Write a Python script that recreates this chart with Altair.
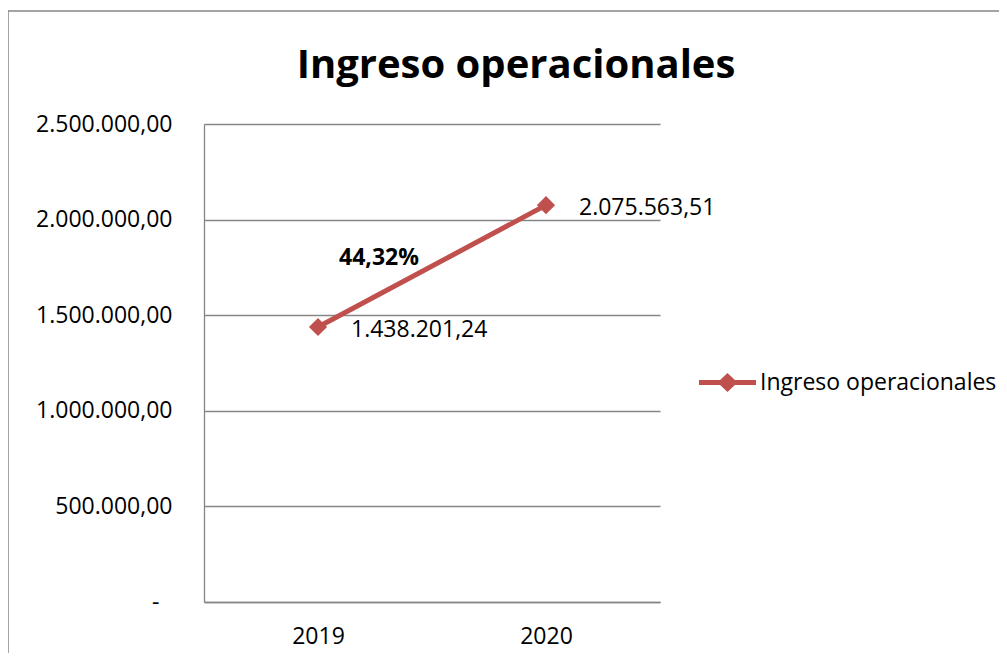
import altair as alt
import pandas as pd

# ---- data ----
years = ["2019", "2020"]
values = [1438201.24, 2075563.51]
series_name = "Ingreso operacionales"
chart_title = "Ingreso operacionales"
y_ticks = [0, 500000, 1000000, 1500000, 2000000, 2500000]
ann_year = ["2019"]
ann_value = [1800000]
ann_pct = [0.4432]

RED = "#C0504D"
GRID = "#868686"
FONT = "Open Sans"
FS = 23

df = pd.DataFrame({"Año": years, "Valor": values, "Serie": [series_name] * len(years)})
ann = pd.DataFrame({"Año": ann_year, "Valor": ann_value, "pct": ann_pct})
one = pd.DataFrame({"k": [0]})

x_enc = alt.X(
    "Año:O",
    scale=alt.Scale(type="point", padding=0.5),
    axis=alt.Axis(title=None, labelAngle=0, grid=False, ticks=False, labelPadding=23,
                  domainColor=GRID, domainWidth=1.3,
                  labelFont=FONT, labelFontSize=FS, labelColor="black"),
)
y_enc = alt.Y(
    "Valor:Q",
    scale=alt.Scale(domain=[0, 2500000], nice=False),
    axis=alt.Axis(title=None, values=y_ticks, format=",.2f",
                  labelExpr="datum.value == 0 ? '-' : datum.label",
                  grid=True, gridColor=GRID, gridWidth=1.3, ticks=False,
                  labelPadding={"condition": {"test": "datum.value == 0", "value": 45},
                                "value": 32},
                  domainColor=GRID, domainWidth=1.3,
                  labelFont=FONT, labelFontSize=FS, labelColor="black"),
)

legend_symbol = ("M-1,-0.09L-0.26,-0.09L0,-0.33L0.26,-0.09L1,-0.09L1,0.09"
                 "L0.26,0.09L0,0.33L-0.26,0.09L-1,0.09Z")

base = alt.Chart(df)

line = base.mark_line(color=RED, strokeWidth=5).encode(x=x_enc, y=y_enc)

points = base.mark_point(shape="diamond", filled=True, size=330, opacity=1).encode(
    x=x_enc,
    y=y_enc,
    color=alt.Color(
        "Serie:N",
        scale=alt.Scale(range=[RED]),
        legend=alt.Legend(
            title=None, orient="none", legendX=495, legendY=230,
            symbolType=legend_symbol, symbolSize=3249, symbolStrokeWidth=0,
            labelFont=FONT, labelFontSize=FS, labelColor="black", labelLimit=600,
            labelOffset=4, padding=0,
        ),
    ),
)

labels = base.mark_text(align="left", baseline="middle", dx=33, dy=3,
                        font=FONT, fontSize=FS, color="black").encode(
    x=x_enc, y=y_enc, text=alt.Text("Valor:Q", format=",.2f"))

annotation = alt.Chart(ann).mark_text(align="center", baseline="middle", dx=61,
                                      font=FONT, fontSize=FS, fontWeight="bold",
                                      color="black").encode(
    x=x_enc, y=y_enc, text=alt.Text("pct:Q", format=".2%"))

border_left = alt.Chart(one).mark_rule(color=GRID, strokeWidth=1.5).encode(
    x=alt.value(-196), y=alt.value(-113), y2=alt.value(700))
border_top = alt.Chart(one).mark_rule(color=GRID, strokeWidth=1.5).encode(
    x=alt.value(-196), x2=alt.value(1000), y=alt.value(-113))

chart = (
    alt.layer(border_left, border_top, line, points, labels, annotation)
    .properties(
        width=456,
        height=478,
        autosize=alt.AutoSizeParams(type="none"),
        padding={"left": 196, "top": 116, "right": 339, "bottom": 51},
        title=alt.TitleParams(
            text=chart_title, font=FONT, fontSize=40, fontWeight="bold",
            color="black", anchor="middle", frame="group", dx=84, offset=-108,
            baseline="alphabetic",
        ),
    )
    .configure(
        view=alt.ViewConfig(stroke=None),
        locale=alt.Locale(number=alt.NumberLocale(
            decimal=",", thousands=".", grouping=[3], currency=["", " €"])),
    )
)

chart.save("out.html", embed_options={"renderer": "svg", "actions": False})
